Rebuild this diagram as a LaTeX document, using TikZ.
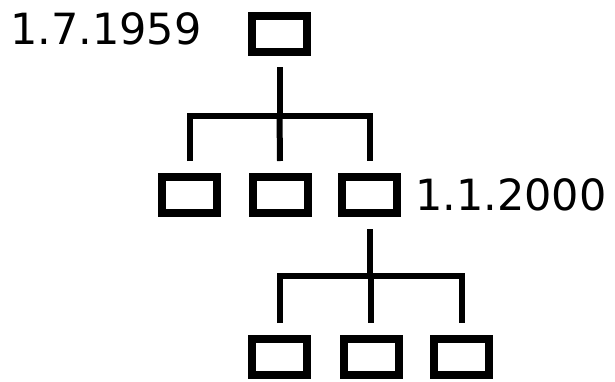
\documentclass[tikz,border=0pt]{standalone}
\usepackage{fontspec}
\setmainfont{DejaVu Sans}
\begin{document}
\begin{tikzpicture}[x=1pt,y=-1pt,
  box/.style={draw=black,line width=8pt,minimum width=55pt,minimum height=36pt,inner sep=0pt,fill=white},
  conn/.style={draw=black,line width=6pt,line join=miter},
  datelabel/.style={anchor=base west,inner sep=0pt,font=\fontsize{43pt}{43pt}\selectfont}]
\path[use as bounding box] (0,0) rectangle (615,381);
% nodes
\node[box] (top) at (279.5,33.5) {};
\node[box] (m1) at (189.5,194.5) {};
\node[box] (m2) at (280,194.5) {};
\node[box] (m3) at (369.5,194.5) {};
\node[box] (b1) at (279.5,357) {};
\node[box] (b2) at (371,357) {};
\node[box] (b3) at (461.5,357) {};
\node[datelabel] (l1) at (10,44) {1.7.1959};
\node[datelabel] (l2) at (415,210) {1.1.2000};
% junctions
\coordinate (j1) at (280.5,115.5);
\coordinate (j2) at (370.5,276);
% upper level
\draw[conn] ([yshift=-11.5pt]top.south) -- (top.south |- j1);
\draw[conn] ([yshift=11.5pt]m1.north) -- (m1.north |- j1) -- (m3.north |- j1) -- ([yshift=11.5pt]m3.north);
\draw[conn] (top.south |- j1) -- ([yshift=11.5pt]m2.north);
% lower level
\draw[conn] ([yshift=-12.5pt]m3.south) -- (m3.south |- j2);
\draw[conn] ([yshift=12pt]b1.north) -- (b1.north |- j2) -- (b3.north |- j2) -- ([yshift=12pt]b3.north);
\draw[conn] (b2.north |- j2) -- ([yshift=12pt]b2.north);
\end{tikzpicture}
\end{document}
